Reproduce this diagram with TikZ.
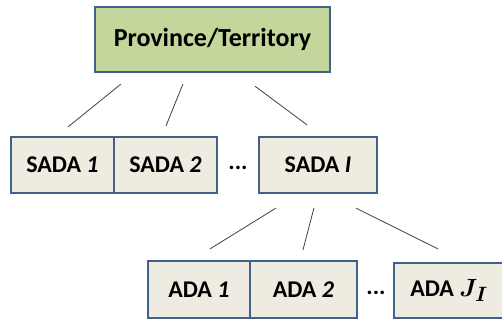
\documentclass[tikz,border=0pt]{standalone}
\usepackage{amsmath}
\usepackage{fontspec}
\setmainfont{Carlito}
\usetikzlibrary{calc,positioning}
\definecolor{boxline}{HTML}{41608A}
\definecolor{provfill}{HTML}{C3D69B}
\definecolor{unitfill}{HTML}{EEECE1}
\tikzset{
    prov/.style={
    rectangle,draw=boxline,line width=2.2pt,fill=provfill,font=\bfseries\fontsize{26}{30}\selectfont
    },
    unit/.style={
    rectangle,draw=boxline,line width=2.2pt,fill=unitfill,font=\bfseries\fontsize{24}{28}\selectfont
    },
    link/.style={
    draw=black!75,line width=0.8pt
    },
}
\begin{document}
\begin{tikzpicture}[x=1pt, y=-1pt]
   \useasboundingbox (0,0) rectangle (502,320);
   \node[prov, minimum width=235pt, minimum height=65pt] (p) at (212.5,39.5) {Province/Territory};
   \node[unit, minimum width=103pt, minimum height=56pt] (s1) at (62.5,165) {SADA \textit{1}};
   \node[unit, minimum width=103pt, minimum height=56pt] (s2) at (165.5,165) {SADA \textit{2}};
   \node[font=\bfseries\fontsize{24}{28}\selectfont] (sd) at (238,168) {...};
   \node[unit, minimum width=118pt, minimum height=56pt] (sI) at (318,165) {SADA \textit{I}};
   \node[unit, minimum width=102pt, minimum height=57pt] (a1) at (199,289.5) {ADA \textit{1}};
   \node[unit, minimum width=107pt, minimum height=57pt] (a2) at (303.5,289.5) {ADA \textit{2}};
   \node[font=\bfseries\fontsize{24}{28}\selectfont] (ad) at (376,293) {...};
   \node[unit, minimum width=110pt, minimum height=55pt] (aJ) at (449,290.5) {ADA {\fontsize{28}{30}\selectfont$\boldsymbol{J_I}$}};

  % links province -> sada
  \path[link] ($(p.south west)+(27,11)$) -- ($(s1.north)+(5.5,-9)$);
  \path[link] ($(p.south west)+(89,11)$) -- ($(s2.north)+(0.5,-10)$);
  \path[link] ($(p.south west)+(161,13)$) -- ($(sI.north)+(-11,-11)$);
  % links sada -> ada
  \path[link] ($(sI.south west)+(18,14)$) -- ($(a1.north)+(11,-11)$);
  \path[link] ($(sI.south west)+(56,14)$) -- ($(a2.north)+(-0.5,-10)$);
  \path[link] ($(sI.south west)+(98,14)$) -- ($(aJ.north)+(-11,-13)$);
\end{tikzpicture}
\end{document}
